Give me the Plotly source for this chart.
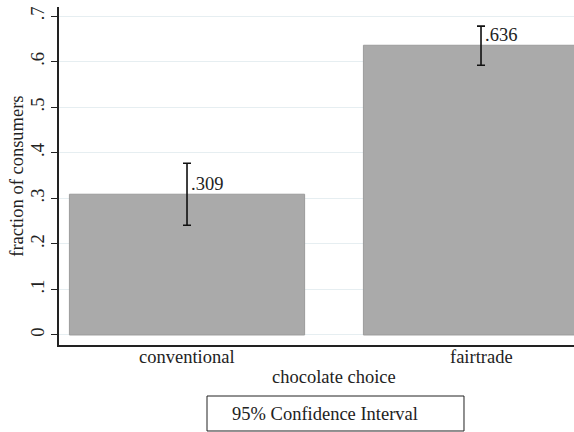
import plotly.graph_objects as go

categories = ["conventional", "fairtrade"]
fractions = [0.309, 0.636]
ci_upper = [0.377, 0.678]
ci_lower = [0.241, 0.592]
value_labels = [".309", ".636"]
y_tick_vals = [0, 0.1, 0.2, 0.3, 0.4, 0.5, 0.6, 0.7]
y_tick_text = ["0", ".1", ".2", ".3", ".4", ".5", ".6", ".7"]

FONT = "Liberation Serif"
FS = 18.5
TXT = "#222222"
xpos = list(range(len(categories)))

fig = go.Figure()
fig.add_trace(go.Bar(
    x=xpos, y=fractions, width=0.8,
    marker=dict(color="#aaaaaa", line=dict(color="#9c9c9c", width=1)),
    error_y=dict(type="data", symmetric=False,
                 array=[u - v for u, v in zip(ci_upper, fractions)],
                 arrayminus=[v - l for l, v in zip(ci_lower, fractions)],
                 color="#111111", thickness=1.6, width=4),
    showlegend=False, hoverinfo="skip",
))

for x, v, t in zip(xpos, fractions, value_labels):
    fig.add_annotation(x=x, y=v, text=t, xref="x", yref="y", showarrow=False,
                       xanchor="left", yanchor="bottom", xshift=2, yshift=-2,
                       font=dict(family=FONT, size=FS, color=TXT))

# category labels
for x, c in zip(xpos, categories):
    fig.add_annotation(x=x, y=-0.0355, xref="x", yref="paper", text=c, showarrow=False,
                       xanchor="center", yanchor="middle",
                       font=dict(family=FONT, size=FS, color=TXT))

# axis titles
fig.add_annotation(x=0.534, y=-0.095, xref="paper", yref="paper", text="chocolate choice",
                   showarrow=False, xanchor="center", yanchor="middle",
                   font=dict(family=FONT, size=FS, color=TXT))
fig.add_annotation(x=-0.082, y=0.5, xref="paper", yref="paper", text="fraction of consumers",
                   showarrow=False, textangle=-90, xanchor="center", yanchor="middle",
                   font=dict(family=FONT, size=FS, color=TXT))

# legend box
fig.add_shape(type="rect", xref="paper", yref="paper", x0=0.2874, x1=0.7864, y0=-0.2544, y1=-0.1509,
              line=dict(color=TXT, width=1), fillcolor="white")
fig.add_annotation(x=0.332, y=-0.2027, xref="paper", yref="paper", text="95% Confidence Interval",
                   showarrow=False, xanchor="left", yanchor="middle",
                   font=dict(family=FONT, size=FS, color=TXT))

fig.update_layout(
    width=574, height=432,
    margin=dict(l=59, r=0, t=7, b=87, autoexpand=False),
    paper_bgcolor="white", plot_bgcolor="white",
    font=dict(family=FONT, size=FS, color=TXT),
    xaxis=dict(range=[-0.4354, 1.3163], tickvals=xpos, showticklabels=False,
               showline=True, linecolor=TXT, linewidth=1.5, ticks="",
               showgrid=False, zeroline=False, automargin=False),
    yaxis=dict(range=[-0.022, 0.72], tickvals=y_tick_vals, ticktext=y_tick_text,
               tickangle=-90, showline=True, linecolor=TXT, linewidth=1.5,
               ticks="outside", ticklen=6, tickcolor=TXT,
               showgrid=True, gridcolor="#e6eef1", gridwidth=1, zeroline=False,
               tickfont=dict(size=FS), automargin=False),
)

fig.write_html("out.html", config={"displayModeBar": False},
               post_script="document.body.style.margin='0';document.body.style.overflow='hidden';")
